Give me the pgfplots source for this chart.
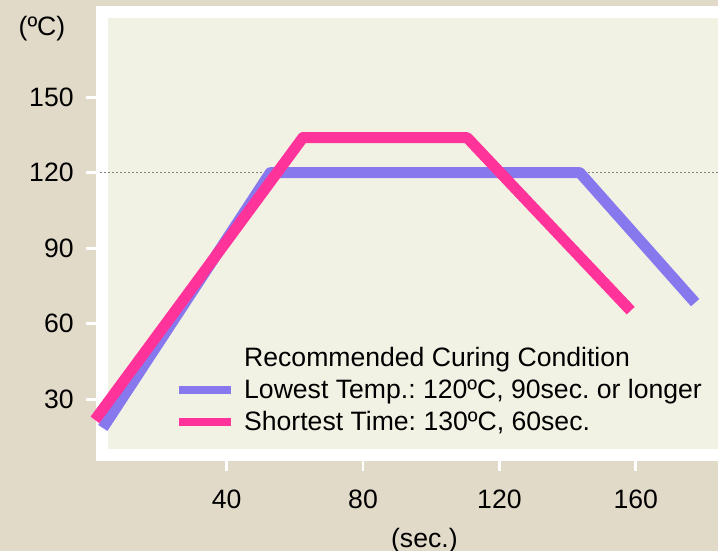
\documentclass[border=0pt]{standalone}
\usepackage{fontspec}
\setmainfont{Liberation Sans}
\usepackage{pgfplots}
\pgfplotsset{compat=1.18}
\definecolor{bgbeige}{RGB}{226,218,200}
\definecolor{panel}{RGB}{242,242,228}
\definecolor{lowblue}{RGB}{136,120,238}
\definecolor{hotpink}{RGB}{255,51,153}
\frenchspacing

\begin{document}
\begin{tikzpicture}[font=\fontsize{13.3}{16}\selectfont]
\useasboundingbox (0,0) rectangle (359pt,275.5pt);
\fill[bgbeige] (0,0) rectangle (359pt,275.5pt);
\begin{axis}[
  at={(48pt,45.15pt)}, anchor=south west,
  x=1.705pt, y=1.2585pt,
  xmin=1.7, xmax=192, ymin=5.6, ymax=186.3,
  clip=false,
  axis background/.style={fill=white},
  axis line style={draw=none},
  tick pos=left, tick align=outside,
  major tick length=5pt,
  tick style={white, line width=1.35pt},
  xtick={40,80,120,160}, ytick={30,60,90,120,150},
  /pgf/number format/assume math mode=true,
  ticklabel style={font=\fontsize{13.3}{16}\selectfont, inner sep=0pt},
  yticklabel style={anchor=east, xshift=-6pt},
  xticklabel style={anchor=north, yshift=-9.3pt},
  xlabel={(sec.)}, ylabel={(ºC)},
  every axis x label/.style={at={(axis cs:98,5.6)}, anchor=north, yshift=-33.6pt, inner sep=0pt},
  every axis y label/.style={at={(rel axis cs:0,1)}, anchor=center, xshift=-27pt, yshift=-11.5pt, inner sep=0pt},
  legend style={at={(axis cs:24.8,52.8)}, anchor=north west, draw=none, fill=none,
    inner sep=0pt, row sep=0.5pt, column sep=2.5pt,
    cells={anchor=base west, text height=10pt, text depth=3pt, inner sep=0pt},
    font=\fontsize{13.3}{16}\selectfont\frenchspacing},
  legend image code/.code={\draw[line width=4pt, line cap=butt] (0pt,4.25pt) -- (26pt,4.25pt);},
]
\fill[panel] ([xshift=6pt,yshift=6pt]rel axis cs:0,0) rectangle ([yshift=-6pt]rel axis cs:1,1);
\addplot[gray, line width=0.5pt, dash pattern=on 1pt off 1pt, forget plot] coordinates {(2.9,120) (200,120)};

\addlegendimage{empty legend}
\addlegendentry{Recommended Curing Condition}

\addplot[lowblue, line width=5.5pt, line join=round, line cap=butt] coordinates {
  (3.7,18.6) (52.8,120) (143.6,120) (177.4,68.4)
};
\addlegendentry{Lowest Temp.: 120ºC, 90sec. or longer}

\addplot[hotpink, line width=5.5pt, line join=round, line cap=butt] coordinates {
  (1.4,21.8) (62.4,134) (110.5,134) (158.5,65.2)
};
\addlegendentry{Shortest Time: 130ºC, 60sec.}
\end{axis}
\end{tikzpicture}
\end{document}
